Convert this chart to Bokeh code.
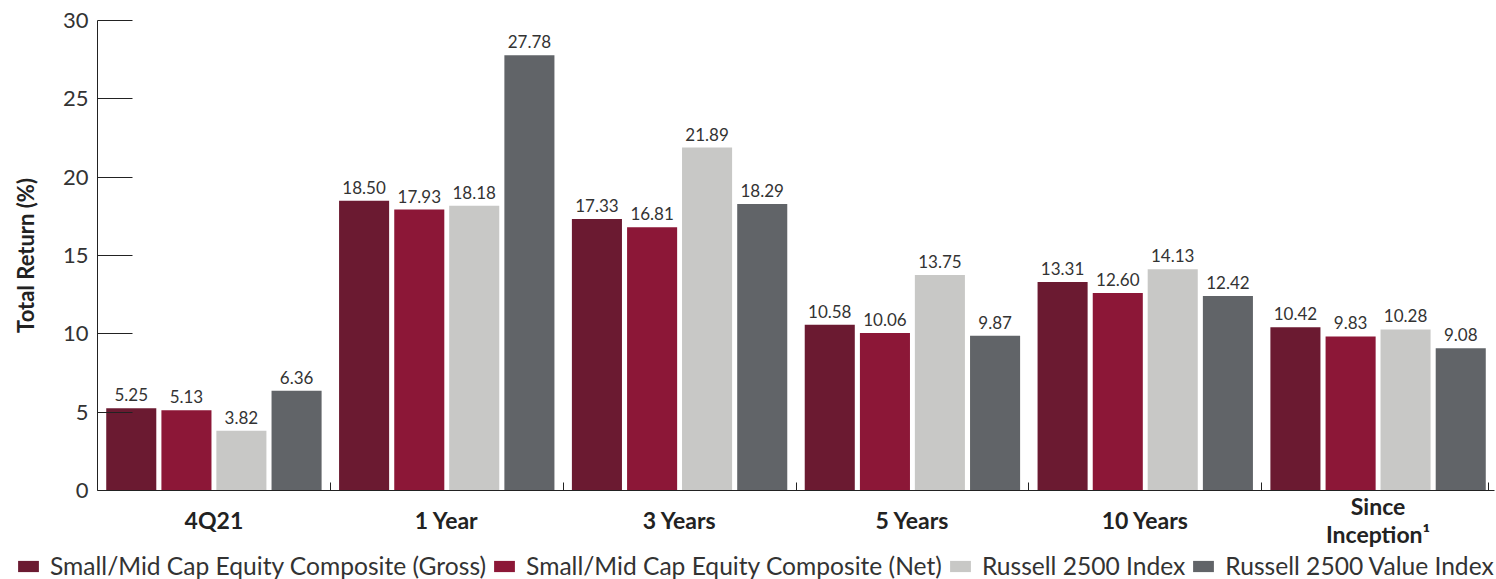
import numpy as np
from bokeh.plotting import figure
from bokeh.models import (FixedTicker, ColumnDataSource, LabelSet, Legend, LegendItem, Range1d)
from bokeh.core.properties import value
from bokeh.embed import file_html
from bokeh.resources import INLINE

categories = ["4Q21", "1 Year", "3 Years", "5 Years", "10 Years", "Since\nInception\u00b9"]
series_names = ["Small/Mid Cap Equity Composite (Gross)",
                "Small/Mid Cap Equity Composite (Net)",
                "Russell 2500 Index",
                "Russell 2500 Value Index"]
gross = [5.25, 18.50, 17.33, 10.58, 13.31, 10.42]
net = [5.13, 17.93, 16.81, 10.06, 12.60, 9.83]
r2500 = [3.82, 18.18, 21.89, 13.75, 14.13, 10.28]
r2500v = [6.36, 27.78, 18.29, 9.87, 12.42, 9.08]
y_ticks = [0, 5, 10, 15, 20, 25, 30]

colors = ["#6B1A31", "#8C1737", "#C8C8C6", "#616468"]
offsets = [-0.355, -0.118, 0.118, 0.355]
bar_w = 0.215

FONT = "Lato"
TXT = "#333333"

# layout (pixels): plot area spans x 97..1494, y 20..490 inside a full-canvas frame
W, H = 1496, 579
LEFT, RIGHT, TOP, BASE = 97, 2, 20, 490
NCAT = len(categories)
YMAX = 30
G = (W - LEFT - RIGHT) / NCAT          # px per category
PXU = (BASE - TOP) / YMAX              # px per y unit

p = figure(width=W, height=H, output_backend="svg", toolbar_location=None,
           x_range=Range1d(-LEFT / G, NCAT + RIGHT / G),
           y_range=Range1d(-(H - BASE) / PXU, YMAX + TOP / PXU),
           min_border_left=0, min_border_right=0, min_border_top=0, min_border_bottom=0)
p.outline_line_color = None
p.xgrid.visible = False
p.ygrid.visible = False
p.background_fill_color = "white"

centers = np.arange(NCAT) + 0.5
items = []
for vals, col, off, name in zip([gross, net, r2500, r2500v], colors, offsets, series_names):
    src = ColumnDataSource(dict(x=centers + off, top=vals,
                                lab=["%.2f" % v for v in vals]))
    r = p.vbar(x="x", top="top", width=bar_w, bottom=0, source=src,
               fill_color=col, line_color=None)
    items.append(LegendItem(label=name, renderers=[r]))
    ls = LabelSet(x="x", y="top", text="lab", source=src, text_align="center",
                  text_baseline="bottom", y_offset=7, text_font_size="17px",
                  text_color=TXT, text_font=value(FONT))
    p.add_layout(ls)

# category labels under the axis
cat_src = ColumnDataSource(dict(x=centers, y=[0] * NCAT, t=categories))
p.text(x="x", y="y", text="t", source=cat_src, text_align="center",
       text_baseline="middle", y_offset=29, text_font_size="23px",
       text_font_style="bold", text_color="#222222", text_font=value(FONT),
       text_line_height=1.0)

xa = p.xaxis[0]
xa.fixed_location = 0
xa.bounds = (0, NCAT)
xa.ticker = FixedTicker(ticks=[], minor_ticks=[1, 2, 3, 4, 5, 5.974])
xa.major_tick_in = 0
xa.major_tick_out = 0
xa.minor_tick_in = 8
xa.minor_tick_out = 0
xa.axis_line_color = "#222222"
xa.minor_tick_line_color = "#222222"

ya = p.yaxis[0]
ya.fixed_location = 0
ya.bounds = (0, YMAX)
ya.ticker = FixedTicker(ticks=y_ticks)
ya.major_tick_in = 35
ya.major_tick_out = 0
ya.minor_tick_line_color = None
ya.axis_line_color = "#222222"
ya.major_tick_line_color = "#222222"
ya.major_label_text_font_size = "22px"
ya.major_label_text_font = FONT
ya.major_label_text_color = TXT
ya.major_label_standoff = 9
ya.axis_label = "Total Return (%)"
ya.axis_label_text_font = FONT
ya.axis_label_text_font_size = "22px"
ya.axis_label_text_font_style = "bold"
ya.axis_label_text_color = "#222222"
ya.axis_label_standoff = 21

legend = Legend(items=items, orientation="horizontal", location=(15, -1),
                label_text_font=FONT, label_text_font_size="24.6px", label_text_color=TXT,
                glyph_width=26, glyph_height=14, label_standoff=9, spacing=5,
                padding=0, margin=0, border_line_color=None, background_fill_alpha=0)
p.add_layout(legend, "center")

open("out.html", "w").write(file_html(p, INLINE))
